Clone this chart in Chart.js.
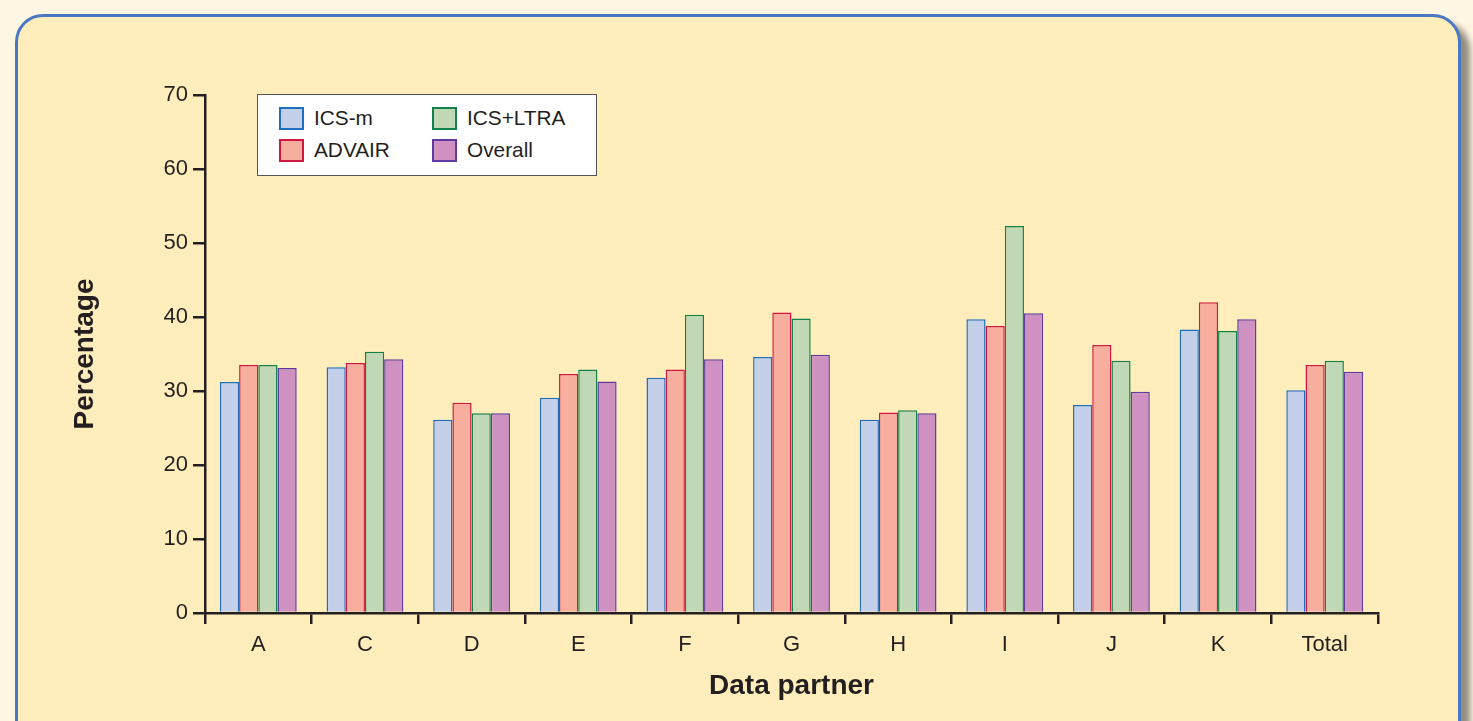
<!DOCTYPE html>
<html>
<head>
<meta charset="utf-8">
<script src="https://cdn.jsdelivr.net/npm/chart.js@4.4.0/dist/chart.umd.min.js"></script>
<style>
  html, body { margin: 0; padding: 0; }
  body {
    width: 1473px; height: 721px; overflow: hidden; position: relative;
    background: #fef6e2; font-family: "Liberation Sans", Arial, sans-serif;
  }
  #panel {
    position: absolute; left: 15px; top: 14px; width: 1440px; height: 780px;
    background: #ffeebb; border: 3px solid #4a78c2; border-radius: 28px;
    box-shadow: 9px 8px 6px #8f8b7f;
  }
  #chart { position: absolute; left: 0; top: 0; }
  #legend {
    position: absolute; left: 257px; top: 94px; width: 338px; height: 80px;
    background: #fff; border: 1.5px solid #555;
  }
  .item { position: absolute; display: flex; align-items: center; font-size: 20.8px; color: #231f20; }
  .swatch { width: 21px; height: 19px; margin-right: 10px; border: 2px solid; }
</style>
</head>
<body>
<div id="panel"></div>
<canvas id="chart" width="1473" height="721"></canvas>
<div id="legend"></div>
<script>
// categories and series
var categories = ['A', 'C', 'D', 'E', 'F', 'G', 'H', 'I', 'J', 'K', 'Total'];
var icsM    = [31.2, 33.2, 26.1, 29.1, 31.8, 34.6, 26.1, 39.7, 28.1, 38.3, 30.1];
var advair  = [33.5, 33.8, 28.4, 32.3, 32.9, 40.6, 27.1, 38.8, 36.2, 42.0, 33.5];
var icsLtra = [33.5, 35.3, 27.0, 32.9, 40.3, 39.8, 27.4, 52.3, 34.1, 38.1, 34.1];
var overall = [33.1, 34.3, 27.0, 31.3, 34.3, 34.9, 27.0, 40.5, 29.9, 39.7, 32.6];
var yTicks  = [0, 10, 20, 30, 40, 50, 60, 70];

var ink = '#231f20';

function ds(label, data, fill, line) {
    return {
        label: label,
        data: data,
        backgroundColor: fill,
        borderColor: line,
        borderWidth: 1.5,
        barPercentage: 1.0,
        categoryPercentage: 0.72
    };
}

var ctx = document.getElementById('chart').getContext('2d');
var myChart = new Chart(ctx, {
    type: 'bar',
    data: {
        labels: categories,
        datasets: [
            ds('ICS-m', icsM, '#c4cfea', '#1f6fc0'),
            ds('ADVAIR', advair, '#f7ae9f', '#d0173f'),
            ds('ICS+LTRA', icsLtra, '#c0d8b6', '#12804a'),
            ds('Overall', overall, '#cf91c2', '#5e3b9e')
        ]
    },
    options: {
        responsive: false,
        animation: false,
        devicePixelRatio: 1,
        layout: { padding: { left: 0, top: 95, right: 95, bottom: 0 } },
        scales: {
            y: {
                min: 0,
                max: 70,
                afterFit: function(s) { s.width = 205; },
                afterBuildTicks: function(s) { s.ticks = yTicks.map(function(v) { return { value: v }; }); },
                ticks: {
                    color: ink,
                    padding: 5,
                    font: { family: '"Liberation Sans", Arial, sans-serif', size: 22 }
                },
                grid: {
                    drawOnChartArea: false,
                    tickLength: 12,
                    color: ink,
                    lineWidth: 2.5
                },
                border: { display: true, color: ink, width: 2.5 },
                title: {
                    display: true,
                    text: 'Percentage',
                    color: ink,
                    padding: { top: 68, bottom: 0 },
                    font: { family: '"Liberation Sans", Arial, sans-serif', size: 28, weight: 'bold' }
                }
            },
            x: {
                afterFit: function(s) { s.height = 108; },
                ticks: {
                    color: ink,
                    padding: 8,
                    font: { family: '"Liberation Sans", Arial, sans-serif', size: 22 }
                },
                grid: {
                    drawOnChartArea: false,
                    tickLength: 11,
                    color: ink,
                    lineWidth: 2.5
                },
                border: { display: true, color: ink, width: 2.5 },
                title: {
                    display: true,
                    text: 'Data partner',
                    color: ink,
                    padding: { top: 0, bottom: 18 },
                    font: { family: '"Liberation Sans", Arial, sans-serif', size: 28, weight: 'bold' }
                }
            }
        },
        plugins: {
            legend: { display: false },
            tooltip: { enabled: false }
        }
    }
});

// legend box, two columns, built from the datasets
var spots = [[21, 11], [21, 43], [174, 11], [174, 43]];
var legend = document.getElementById('legend');
myChart.data.datasets.forEach(function(d, i) {
    var item = document.createElement('div');
    item.className = 'item';
    item.style.left = spots[i][0] + 'px';
    item.style.top = spots[i][1] + 'px';
    item.innerHTML = '<span class="swatch" style="background:' + d.backgroundColor +
        ';border-color:' + d.borderColor + '"></span>' + d.label;
    legend.appendChild(item);
});
</script>
</body>
</html>
